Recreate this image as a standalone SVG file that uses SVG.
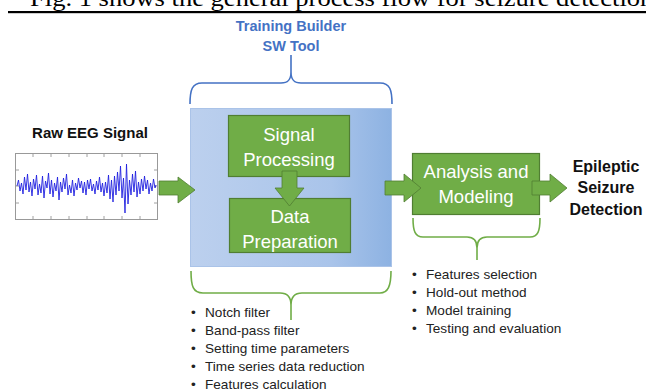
<svg xmlns="http://www.w3.org/2000/svg" width="646" height="392" viewBox="0 0 646 392">
  <defs>
    <linearGradient id="toolFill" x1="0" y1="0" x2="1" y2="0">
      <stop offset="0" stop-color="#bcd0ee"/>
      <stop offset="0.7" stop-color="#a9c4ea"/>
      <stop offset="1" stop-color="#8db2e2"/>
    </linearGradient>
    <style>
      .caption { font-family: "Liberation Serif", serif; font-size: 23px; fill: #000; }
      .title { font-family: "Liberation Sans", Arial, sans-serif; font-weight: bold; font-size: 14.5px; fill: #4472c4; text-anchor: middle; }
      .label { font-family: "Liberation Sans", Arial, sans-serif; font-weight: bold; font-size: 15px; fill: #111; text-anchor: middle; }
      .outLabel { font-size: 16px; }
      .box { fill: #70ad47; stroke: #507e32; stroke-width: 1.2; }
      .boxText { font-family: "Liberation Sans", Arial, sans-serif; font-size: 18.5px; fill: #ffffff; text-anchor: middle; }
      .arrow { fill: #70ad47; stroke: #507e32; stroke-width: 0.8; }
      .braceBlue { fill: none; stroke: #4472c4; stroke-width: 1.6; }
      .braceGreen { fill: none; stroke: #70ad47; stroke-width: 1.6; }
      .list { font-family: "Liberation Sans", Arial, sans-serif; font-size: 13.6px; fill: #222; }
      .tick { stroke: #888; stroke-width: 0.8; }
    </style>
  </defs>

  <rect width="646" height="392" fill="#ffffff"/>

  <!-- page caption above the figure, clipped by the top edge -->
  <text class="caption" x="30" y="6" textLength="630" lengthAdjust="spacingAndGlyphs">Fig. 1 shows the general process flow for seizure detection.</text>
  <rect x="8" y="11" width="638" height="2.2" fill="#000"/>

  <!-- raw signal -->
  <g id="raw-eeg">
    <text class="label" x="90" y="138">Raw EEG Signal</text>
    <rect x="15.5" y="153.5" width="142" height="66" fill="#fff" stroke="#999" stroke-width="1"/>
    <g class="tick">
      <line x1="33" y1="154" x2="33" y2="157"/><line x1="51" y1="154" x2="51" y2="157"/>
      <line x1="69" y1="154" x2="69" y2="157"/><line x1="87" y1="154" x2="87" y2="157"/>
      <line x1="104" y1="154" x2="104" y2="157"/><line x1="122" y1="154" x2="122" y2="157"/>
      <line x1="140" y1="154" x2="140" y2="157"/>
      <line x1="33" y1="219" x2="33" y2="216"/><line x1="51" y1="219" x2="51" y2="216"/>
      <line x1="69" y1="219" x2="69" y2="216"/><line x1="87" y1="219" x2="87" y2="216"/>
      <line x1="104" y1="219" x2="104" y2="216"/><line x1="122" y1="219" x2="122" y2="216"/>
      <line x1="140" y1="219" x2="140" y2="216"/>
      <line x1="16" y1="170" x2="19" y2="170"/><line x1="16" y1="186" x2="19" y2="186"/>
      <line x1="16" y1="203" x2="19" y2="203"/>
      <line x1="157" y1="170" x2="154" y2="170"/><line x1="157" y1="186" x2="154" y2="186"/>
      <line x1="157" y1="203" x2="154" y2="203"/>
    </g>
    <polyline fill="none" stroke="#2020e0" stroke-width="0.9" stroke-linejoin="round"
      points="17,186 18.5,180 20,191 21.5,183 23,194 24.5,177 26,190 27.5,174 29,192 30.5,182 32,196 33.5,179 35,189 36.5,175 38,195 39.5,184 41,193 42.5,176 44,198 45.5,181 47,188 48.5,173 50,194 51.5,180 53,197 54.5,183 56,191 57.5,177 59,200 60.5,182 62,192 63.5,178 65,189 66.5,174 68,195 69.5,185 71,193 72.5,180 74,196 75.5,183 77,190 78.5,178 80,188 81.5,181 83,193 84.5,182 86,195 87.5,180 89,189 90.5,179 92,191 93.5,184 95,194 96.5,181 98,190 99.5,177 101,192 102.5,183 104,196 105.5,182 107,193 108.5,175 110,199 111.5,180 113,202 114.5,176 116,195 117.5,172 119,191 120.5,166 122,198 123.5,178 125,213 126.5,164 128,204 129.5,180 131,195 132.5,174 134,192 135.5,171 137,197 138.5,182 140,194 141.5,179 143,191 144.5,176 146,189 147.5,180 149,194 150.5,183 152,191 153.5,179 155,188 156,185"/>
  </g>

  <!-- training builder tool -->
  <g id="tool-title">
    <text class="title" x="291" y="31">Training Builder</text>
    <text class="title" x="291" y="51">SW Tool</text>
  </g>
  <g id="tool-panel">
    <rect x="190.5" y="108.5" width="201" height="158" fill="url(#toolFill)" stroke="#aac3e8" stroke-width="1"/>
  </g>
  <g id="signal-processing">
    <rect class="box" x="228.5" y="115.5" width="121" height="61"/>
    <text class="boxText" x="289" y="141">Signal</text>
    <text class="boxText" x="289" y="166">Processing</text>
  </g>
  <g id="data-preparation">
    <rect class="box" x="229.5" y="198.5" width="121" height="54"/>
    <text class="boxText" x="290" y="223">Data</text>
    <text class="boxText" x="290" y="248">Preparation</text>
  </g>
  <g id="analysis-modeling">
    <rect class="box" x="412.5" y="153.5" width="127" height="61"/>
    <text class="boxText" x="476" y="178">Analysis and</text>
    <text class="boxText" x="476" y="203">Modeling</text>
  </g>
  <g id="seizure-detection">
    <text class="label outLabel" x="606" y="172">Epileptic</text>
    <text class="label outLabel" x="606" y="193">Seizure</text>
    <text class="label outLabel" x="606" y="215">Detection</text>
  </g>

  <!-- step lists -->
  <g id="preprocessing-steps" class="list">
    <text x="191" y="317">•</text><text x="205" y="317">Notch filter</text>
    <text x="191" y="335">•</text><text x="205" y="335">Band-pass filter</text>
    <text x="191" y="353">•</text><text x="205" y="353">Setting time parameters</text>
    <text x="191" y="371">•</text><text x="205" y="371">Time series data reduction</text>
    <text x="191" y="389">•</text><text x="205" y="389">Features calculation</text>
  </g>
  <g id="modeling-steps" class="list">
    <text x="412" y="279">•</text><text x="426" y="279">Features selection</text>
    <text x="412" y="297">•</text><text x="426" y="297">Hold-out method</text>
    <text x="412" y="315">•</text><text x="426" y="315">Model training</text>
    <text x="412" y="333">•</text><text x="426" y="333">Testing and evaluation</text>
  </g>

  <!-- connectors: flow arrows and braces -->
  <g id="connectors">
    <polygon class="arrow" points="159,181 178,181 178,177 195,190 178,203 178,195 159,195"/>
    <polygon class="arrow" points="282,171 297,171 297,188 304,188 289.5,206 275,188 282,188"/>
    <polygon class="arrow" points="385,181 404,181 404,174 421,188 404,202 404,195 385,195"/>
    <polygon class="arrow" points="532,181 550,181 550,174 567,188 550,202 550,195 532,195"/>

    <path class="braceBlue" d="M190,104 C190,90 192,83 202,83 L281,83 C288,83 291,80 291,72 L291,55 M291,72 C291,80 294,83 301,83 L380,83 C390,83 392,90 392,104"/>
    <path class="braceGreen" d="M191,271 C191,286 193,293 203,293 L280,293 C287,293 291,297 291,305 L291,320 M291,305 C291,297 295,293 302,293 L380,293 C388,293 391,286 391,271"/>
    <path class="braceGreen" d="M413,218 C413,231 415,237 423,237 L467,237 C474,237 477,241 477,248 L477,260 M477,248 C477,241 480,237 487,237 L530,237 C538,237 540,231 540,218"/>
  </g>
</svg>
